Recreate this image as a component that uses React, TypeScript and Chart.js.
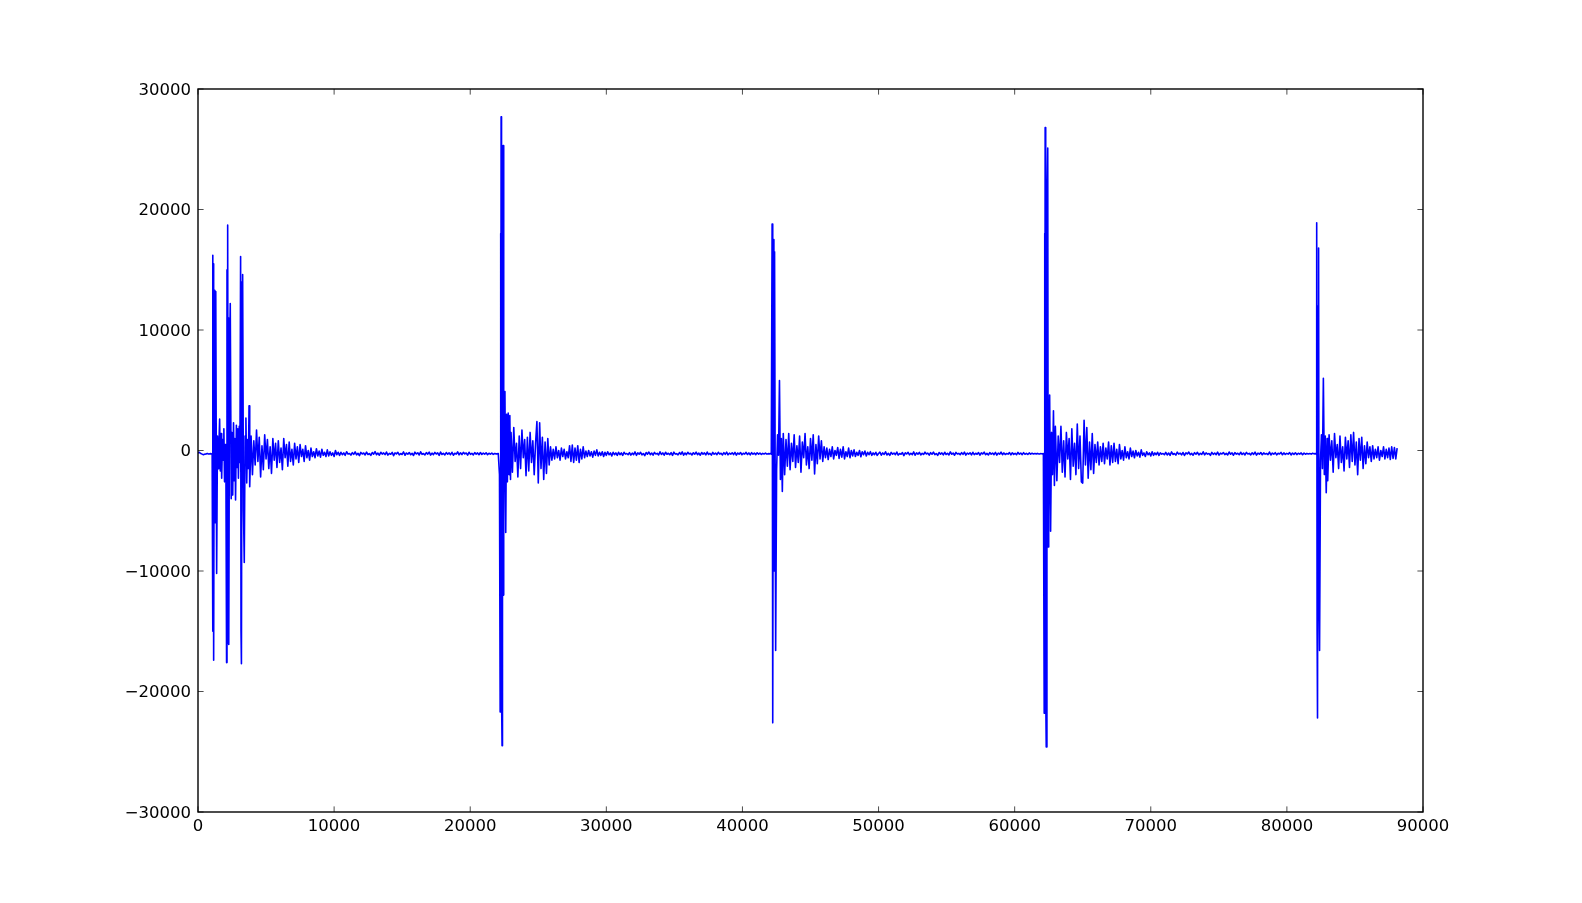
import React, { useEffect, useRef } from "react";
import { Chart, registerables } from "chart.js";

Chart.register(...registerables);

// ---- axis ticks ----
const xTickValues = [0, 10000, 20000, 30000, 40000, 50000, 60000, 70000, 80000, 90000];
const yTickValues = [-30000, -20000, -10000, 0, 10000, 20000, 30000];

// ---- waveform (sample index, amplitude) ----
// evenly spaced runs: [firstSample, lastSample] + amplitudes
const leadRange = [0, 1000];
const leadValues = [-200, -150, -250, -300, -350, -300, -280, -250, -300, -260, -280];

const burst1X = [1040, 1075, 1100, 1120, 1150, 1200, 1230, 1260, 1290, 1320, 1370, 1430, 1480, 1540, 1590, 1640, 1690, 1740, 1800, 1850, 1900, 1950, 2000, 2050, 2100, 2130, 2150, 2180, 2220, 2250, 2270, 2320, 2370, 2440, 2500, 2550, 2610, 2660, 2710, 2760, 2820, 2870, 2920, 2970, 3030, 3080, 3130, 3160, 3180, 3200, 3240, 3280, 3340, 3400, 3460, 3520, 3580, 3640, 3700, 3750, 3800];
const burst1Y = [-300, 16200, -15000, 15500, -17400, 9000, 13300, -6000, 12500, 13200, -10200, 1200, -1500, 600, 2600, -1700, 1400, -2300, 900, -800, 1800, -2600, 500, -1200, -17600, 15000, -16000, 18700, -12000, 11000, -16100, 8000, 12200, -4000, 1500, -3700, 2300, -2500, 1000, -4100, 2100, -1400, 1800, -2300, 2000, -1000, 16100, -15000, 14000, -17700, 12000, 14600, -5000, -9300, 1200, 2700, -2700, 900, -1500, 3700, -3000];

const tail1Range = [3900, 10400];
const tail1Values = [1200, -2000, 800, -1200, 1700, -900, 1100, -2200, 400, -1600, 1300, -700, 900, -1500, 300, -1900, 1000, -800, 600, -1400, 800, -1000, 200, -1600, 1000, -600, 500, -1300, 700, -900, 100, -1200, 600, -700, 300, -1000, 500, -500, 100, -900, 400, -600, 0, -800, 200, -500, -100, -600, 150, -450, -50, -550, 100, -400, -150, -500, 50, -450, -100, -400, -200, -500, 0, -350, -150, -400];

const quiet1Range = [10500, 21900];
const quiet1Values = [
  -150, -350, -200, -400, -100, -300, -250, -380, -180, -320,
  -120, -360, -230, -420, -160, -290, -210, -370, -140, -330,
  -260, -400, -170, -310, -90, -350, -220, -390, -150, -300,
  -200, -340, -130, -380, -240, -310, -160, -420, -200, -280,
  -150, -360, -250, -330, -120, -390, -210, -300, -170, -350,
  -230, -410, -140, -290, -190, -370, -110, -320, -250, -360,
  -180, -300, -140, -380, -220, -340, -160, -290, -200, -400,
  -130, -330, -240, -370, -170, -310, -200, -350, -150, -390,
  -230, -300, -120, -360, -190, -340, -160, -280, -210, -380,
  -150, -320, -240, -360, -180, -300, -200, -350, -170, -330,
  -220, -310, -190, -350, -230, -300, -210, -320, -250, -280,
];

const burst2X = [21980, 22060, 22150, 22200, 22230, 22250, 22270, 22300, 22340, 22370, 22410, 22440, 22480, 22510, 22550, 22610, 22670, 22730, 22790, 22850, 22910, 22960];
const burst2Y = [-280, -250, -2000, -21700, 18000, -19000, 27700, -20000, -24500, 20000, 25300, -12000, -6000, 3000, 4900, -6800, 3000, -2600, 3100, -2000, 2900, -2400];

const tail2Range = [23000, 31600];
const tail2Values = [1500, -1800, 1900, -900, 600, -2200, 1200, -1500, 1700, -600, 900, -2100, 1100, -1700, 1500, -1000, 800, -2000, 600, 2400, -2700, 2300, -1500, 1100, -2400, 700, -1900, 1000, -1200, 300, -800, 100, -700, 300, -600, 0, -800, 200, -500, 100, -700, -100, -600, 400, -900, 450, -1000, 200, -800, 400, -1000, 100, -700, 300, -600, -50, -500, 0, -450, -100, -550, -50, -400, 50, -450, -150, -400, -100, -500, -150, -400, -100, -350, -200, -450, -150, -350, -200, -400, -150, -350, -200, -400, -150, -300, -250, -350];

const quiet2Range = [31700, 42000];
const quiet2Values = [
  -180, -380, -220, -340, -120, -400, -200, -310, -150, -360,
  -250, -420, -170, -300, -130, -350, -210, -380, -160, -290,
  -240, -370, -110, -330, -200, -390, -150, -310, -230, -350,
  -180, -400, -140, -300, -260, -360, -170, -320, -120, -380,
  -210, -340, -150, -290, -230, -370, -190, -310, -140, -350,
  -220, -390, -170, -300, -200, -360, -130, -330, -240, -380,
  -160, -310, -210, -350, -150, -300, -230, -370, -180, -320,
  -140, -360, -220, -300, -190, -340, -160, -380, -210, -310,
  -170, -350, -230, -300, -150, -330, -200, -360, -180, -310,
  -220, -340, -190, -300, -210, -330, -240, -290, -220, -300,
  -260, -280,
];

const burst3X = [42050, 42120, 42180, 42210, 42240, 42280, 42310, 42335, 42360, 42440, 42510, 42580, 42650, 42720, 42790, 42860, 42930, 43000];
const burst3Y = [-250, -300, 18800, -18000, -22600, 15000, 17500, -10000, 16500, -16600, -1600, 1300, -400, 5800, -2400, 1000, -3400, 1400];

const tail3Range = [43100, 50000];
const tail3Values = [-2000, 900, -1300, 1400, -1600, 600, -900, 1300, -1400, 400, -1000, 1200, -1800, 700, -600, 1400, -1200, 300, -1500, 1000, -800, 1300, -1950, 500, -1100, 1200, -700, 800, -900, 300, -600, 200, -750, 100, -500, 300, -700, 0, -400, 250, -650, 100, -550, 300, -700, -100, -500, 200, -600, 0, -450, 50, -500, -150, -400, 0, -520, -100, -350, -50, -450, -150, -350, -100, -400, -200, -350, -150, -400, -250];

const quiet3Range = [50100, 62000];
const quiet3Values = [
  -140, -390, -200, -330, -110, -370, -240, -400, -160, -300,
  -210, -350, -130, -380, -250, -310, -170, -420, -190, -290,
  -150, -360, -230, -340, -120, -390, -200, -300, -160, -370,
  -240, -330, -140, -290, -220, -380, -180, -310, -130, -350,
  -250, -400, -170, -300, -200, -360, -150, -330, -230, -370,
  -120, -310, -210, -390, -160, -290, -240, -350, -180, -320,
  -140, -380, -220, -300, -190, -360, -150, -340, -230, -310,
  -170, -390, -200, -290, -140, -350, -240, -370, -180, -300,
  -210, -340, -160, -380, -220, -310, -130, -350, -200, -330,
  -250, -300, -170, -360, -190, -320, -230, -350, -160, -300,
  -210, -340, -180, -310, -240, -330, -200, -300, -230, -290,
  -250, -280, -240, -300, -260, -270,
];

const burst4X = [62050, 62110, 62170, 62200, 62220, 62240, 62280, 62320, 62370, 62430, 62460, 62500, 62570, 62640, 62710, 62780, 62850, 62920, 62990];
const burst4Y = [-280, -260, -21800, 18000, -18000, 26800, -20000, -24600, 20000, 25100, -8000, -5500, 4600, -6700, 1500, -2000, 3300, -2900, 2000];

const tail4Range = [63100, 71000];
const tail4Values = [-2500, 1200, -1000, 2000, -1800, 800, -2200, 1500, -700, 1000, -2400, 1800, -1300, 600, -2000, 2200, -1500, 1200, -2600, -2700, 2500, -1200, 1900, -2300, 700, -1600, 1400, -1900, 500, -1000, 700, -1200, 300, -900, 600, -1100, 200, -700, 700, -1200, 400, -1000, 600, -900, 100, -1100, 500, -700, 0, -800, 300, -600, -100, -700, 200, -500, -50, -600, 0, -450, -150, -550, 50, -400, -200, -500, -100, -350, -200, -450, -100, -400, -200, -350, -150, -400, -200, -300, -250, -350];

const quiet4Range = [71100, 82000];
const quiet4Values = [
  -160, -370, -210, -400, -120, -330, -250, -380, -140, -300,
  -220, -360, -170, -410, -190, -290, -130, -350, -240, -390,
  -180, -310, -150, -370, -230, -330, -110, -360, -200, -300,
  -250, -400, -160, -320, -210, -350, -140, -380, -220, -290,
  -170, -340, -240, -370, -130, -310, -200, -390, -180, -300,
  -230, -350, -150, -330, -210, -370, -160, -290, -240, -360,
  -190, -320, -140, -380, -220, -310, -170, -350, -200, -300,
  -250, -340, -130, -370, -210, -310, -180, -360, -230, -290,
  -160, -350, -200, -330, -240, -300, -170, -370, -210, -320,
  -190, -340, -230, -300, -200, -350, -220, -310, -240, -290,
  -250, -300, -230, -280,
];

const burst5X = [82080, 82140, 82190, 82220, 82250, 82290, 82330, 82360, 82400, 82470, 82540, 82610, 82680, 82750, 82820, 82890, 82960];
const burst5Y = [-250, -300, 18900, -15000, -22200, 12000, 16800, -12000, -16600, -800, 1300, -1500, 6000, -2000, 1200, -3500, 1000];

const tail5Range = [83000, 88100];
const tail5Values = [-2500, 1300, -800, 800, -1800, 1400, -600, 500, -1500, 1200, -1000, 300, -1700, 1100, -700, 800, -1400, 1300, -900, 1500, -1200, 700, -2000, 1000, -800, 1100, -1500, 400, -1100, 700, -600, 300, -900, 400, -700, 100, -600, 300, -800, 0, -500, 300, -700, 100, -600, 200, -750, 300, -650, 250, -700, 200];

type Pt = { x: number; y: number };

function run(range: number[], values: number[]): Pt[] {
  const n = values.length;
  const step = n > 1 ? (range[1] - range[0]) / (n - 1) : 0;
  return values.map((y, i) => ({ x: range[0] + i * step, y }));
}
function pairs(xs: number[], ys: number[]): Pt[] {
  return xs.map((x, i) => ({ x, y: ys[i] }));
}

const fmt = (v: number | string) => {
  const n = Number(v);
  return n < 0 ? "\u2212" + Math.abs(n) : String(n);
};

const framePlugin = {
  id: "mplFrame",
  afterDatasetsDraw(chart: any) {
    const { ctx, chartArea: a, scales } = chart;
    const tl = 5.6;
    ctx.save();
    ctx.strokeStyle = "#000";
    ctx.lineWidth = 0.7;
    ctx.beginPath();
    xTickValues.forEach((v) => {
      const p = scales.x.getPixelForValue(v);
      ctx.moveTo(p, a.bottom);
      ctx.lineTo(p, a.bottom - tl);
      ctx.moveTo(p, a.top);
      ctx.lineTo(p, a.top + tl);
    });
    yTickValues.forEach((v) => {
      const p = scales.y.getPixelForValue(v);
      ctx.moveTo(a.left, p);
      ctx.lineTo(a.left + tl, p);
      ctx.moveTo(a.right, p);
      ctx.lineTo(a.right - tl, p);
    });
    ctx.stroke();
    ctx.lineWidth = 1.4;
    ctx.strokeRect(a.left, a.top, a.right - a.left, a.bottom - a.top);
    ctx.restore();
  },
};

export default function App() {
  const ref = useRef<HTMLCanvasElement>(null);
  useEffect(() => {
    const points: Pt[] = [
      ...run(leadRange, leadValues),
      ...pairs(burst1X, burst1Y),
      ...run(tail1Range, tail1Values),
      ...run(quiet1Range, quiet1Values),
      ...pairs(burst2X, burst2Y),
      ...run(tail2Range, tail2Values),
      ...run(quiet2Range, quiet2Values),
      ...pairs(burst3X, burst3Y),
      ...run(tail3Range, tail3Values),
      ...run(quiet3Range, quiet3Values),
      ...pairs(burst4X, burst4Y),
      ...run(tail4Range, tail4Values),
      ...run(quiet4Range, quiet4Values),
      ...pairs(burst5X, burst5Y),
      ...run(tail5Range, tail5Values),
    ];
    const font = { family: "'DejaVu Sans', sans-serif", size: 16.5 };
    const chart = new Chart(ref.current as HTMLCanvasElement, {
      type: "line",
      data: {
        datasets: [
          {
            data: points,
            borderColor: "#0000ff",
            borderWidth: 1.6,
            pointRadius: 0,
            tension: 0,
            fill: false,
            borderJoinStyle: "round",
          },
        ],
      },
      options: {
        animation: false,
        responsive: false,
        devicePixelRatio: 1,
        parsing: false,
        normalized: true,
        events: [],
        layout: { padding: { top: 89, right: 159, bottom: 0, left: 0 } },
        plugins: { legend: { display: false }, tooltip: { enabled: false } },
        scales: {
          x: {
            type: "linear",
            min: 0,
            max: 90000,
            afterBuildTicks: (s: any) => {
              s.ticks = xTickValues.map((v) => ({ value: v }));
            },
            afterFit: (s: any) => {
              s.height = 91;
            },
            grid: { display: false, drawTicks: false },
            border: { display: false },
            ticks: { padding: 5, color: "#000", font, maxRotation: 0, autoSkip: false, callback: fmt },
          },
          y: {
            type: "linear",
            min: -30000,
            max: 30000,
            afterBuildTicks: (s: any) => {
              s.ticks = yTickValues.map((v) => ({ value: v }));
            },
            afterFit: (s: any) => {
              s.width = 198;
            },
            grid: { display: false, drawTicks: false },
            border: { display: false },
            ticks: { padding: 7, labelOffset: 1.5, color: "#000", font, autoSkip: false, callback: fmt },
          },
        },
      },
      plugins: [framePlugin],
    } as any);
    return () => chart.destroy();
  }, []);
  return (
    <div style={{ position: "absolute", left: 0, top: 0, width: 1582, height: 903, background: "#fff" }}>
      <canvas ref={ref} width={1582} height={903} style={{ display: "block", width: 1582, height: 903 }} />
    </div>
  );
}
